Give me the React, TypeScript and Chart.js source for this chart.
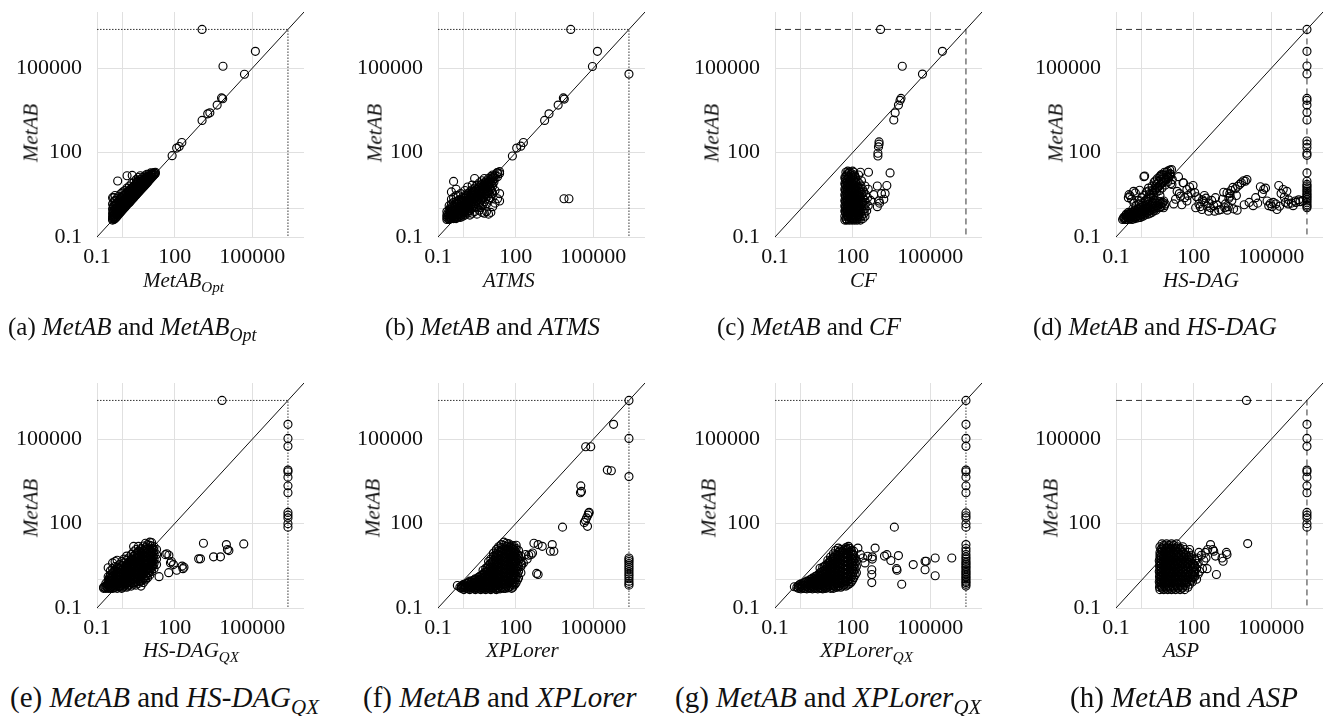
import React, { useEffect, useRef } from "react";
import { Chart, registerables } from "chart.js";
Chart.register(...registerables);

type P = [number, number];

const TIMEOUT = 2400000;
const T = TIMEOUT;
const AXIS_MIN = 0.1;
const AXIS_MAX = 10000000;
const TICK_VALUES = [0.1, 1, 100, 100000];
const TICK_LABELS = ["0.1", "", "100", "100000"];

// (a) MetAB vs MetAB_Opt
const outA: P[] = [[1150,T],[132000,400000],[7400,118000],[50000,61000],[6500,8800],[7200,8200],[4400,4900],[1900,2400],[2300,2600],[1150,1400],[80,78],[120,145],[150,165],[190,230],[16,19.5],[0.63,9.8],[1.45,15],[2.3,15.5],[4.7,15],[0.44,2.5]];
const blobA: P[] = [[0.4,0.4],[0.4,0.45],[0.4,0.55],[0.4,0.7],[0.4,1.0],[0.4,1.5],[0.4,2.5],[0.45,0.42],[0.45,0.5],[0.45,0.6],[0.45,0.8],[0.45,1.2],[0.45,1.8],[0.5,0.45],[0.5,0.55],[0.5,0.7],[0.5,0.9],[0.5,1.3],[0.5,2],[0.5,3],[0.6,0.55],[0.6,0.65],[0.6,0.8],[0.6,1.1],[0.6,1.6],[0.6,2.4],[0.7,0.65],[0.7,0.75],[0.7,0.95],[0.7,1.3],[0.7,1.9],[0.7,2.8],[0.85,0.8],[0.85,0.95],[0.85,1.2],[0.85,1.6],[0.85,2.4],[0.85,3.5],[1,0.95],[1,1.1],[1,1.4],[1,1.9],[1,2.8],[1,4],[1.2,1.15],[1.2,1.35],[1.2,1.7],[1.2,2.3],[1.2,3.2],[1.2,4.5],[1.45,1.4],[1.45,1.6],[1.45,2],[1.45,2.7],[1.45,3.8],[1.45,5.5],[1.8,1.7],[1.8,2],[1.8,2.5],[1.8,3.3],[1.8,4.5],[1.8,6.5],[2.2,2.1],[2.2,2.4],[2.2,3],[2.2,4],[2.2,5.5],[2.2,8],[2.7,2.6],[2.7,3],[2.7,3.7],[2.7,4.8],[2.7,6.5],[2.7,9],[3.3,3.2],[3.3,3.7],[3.3,4.5],[3.3,5.8],[3.3,7.8],[3.3,11],[4,3.9],[4,4.5],[4,5.5],[4,7],[4,9.5],[4,13],[4.7,4.6],[4.7,5.4],[4.7,6.6],[4.7,8.5],[4.7,11],[5.8,5.6],[5.8,6.6],[5.8,8],[5.8,10],[5.8,13],[7,6.8],[7,8],[7,9.8],[7,12],[7,15],[8.5,8.3],[8.5,9.8],[8.5,12],[8.5,14.5],[8.5,17],[10,10],[10,11.5],[10,14],[10,17],[12,12],[12,14],[12,16.5],[12,19],[15,15],[15,17],[18,18],[18,20]];
const blobA2: P[] = [[0.42,0.48],[0.43,0.62],[0.42,0.85],[0.43,1.25],[0.47,0.52],[0.48,0.68],[0.47,1.0],[0.55,0.5],[0.55,0.62],[0.55,0.78],[0.55,1.05],[0.55,1.5],[0.65,0.6],[0.65,0.72],[0.65,0.9],[0.65,1.2],[0.65,1.75],[0.78,0.72],[0.78,0.88],[0.78,1.1],[0.78,1.5],[0.78,2.1],[0.92,0.88],[0.92,1.05],[0.92,1.3],[0.92,1.75],[0.92,2.5],[1.1,1.05],[1.1,1.25],[1.1,1.55],[1.1,2.1],[1.1,3],[1.3,1.25],[1.3,1.5],[1.3,1.85],[1.3,2.5],[1.3,3.5],[1.6,1.55],[1.6,1.8],[1.6,2.25],[1.6,3],[1.6,4.2],[2,1.9],[2,2.2],[2,2.75],[2,3.6],[2,5],[2.45,2.35],[2.45,2.7],[2.45,3.3],[2.45,4.4],[2.45,6],[3,2.9],[3,3.3],[3,4.1],[3,5.3],[3,7.2],[3.6,3.5],[3.6,4.1],[3.6,5],[3.6,6.4],[3.6,8.6],[4.3,4.2],[4.3,5],[4.3,6],[4.3,7.8],[5.2,5.1],[5.2,6],[5.2,7.3],[5.2,9.2],[6.4,6.2],[6.4,7.3],[6.4,8.9],[6.4,11],[7.7,7.5],[7.7,8.9],[7.7,10.8],[7.7,13],[9.2,9],[9.2,10.6],[9.2,13],[11,11],[11,12.8],[11,15.5],[13.5,13.5],[13.5,15.5],[13.5,18],[16.5,16.5],[16.5,18.5]];

// (b) MetAB vs ATMS
const outB: P[] = [[13500,T],[145000,400000],[93000,115000],[T,62000],[7000,8800],[7600,8000],[4400,4900],[1950,2400],[1320,1400],[75,76],[110,145],[158,170],[200,230],[19.5,19.5],[7400,2.3],[11500,2.3]];
const blobB: P[] = [[0.22,0.42],[0.22,0.5],[0.22,0.6],[0.22,0.8],[0.27,0.42],[0.27,0.5],[0.27,0.65],[0.27,0.9],[0.27,1.3],[0.33,0.45],[0.33,0.55],[0.33,0.7],[0.33,1],[0.33,1.5],[0.33,2.2],[0.33,4],[0.4,0.45],[0.4,0.5],[0.4,0.6],[0.4,0.8],[0.4,1.1],[0.4,1.7],[0.4,2.5],[0.4,9.5],[0.5,0.45],[0.5,0.55],[0.5,0.7],[0.5,0.9],[0.5,1.2],[0.5,1.8],[0.5,3],[0.5,5],[0.6,0.5],[0.6,0.6],[0.6,0.75],[0.6,1],[0.6,1.4],[0.6,2],[0.6,3],[0.75,0.5],[0.75,0.65],[0.75,0.85],[0.75,1.1],[0.75,1.5],[0.75,2.2],[0.75,3.5],[0.9,0.55],[0.9,0.75],[0.9,1],[0.9,1.3],[0.9,1.8],[0.9,2.6],[1.1,0.6],[1.1,0.8],[1.1,1.1],[1.1,1.5],[1.1,2],[1.1,3],[1.1,4.5],[1.4,0.7],[1.4,1],[1.4,1.3],[1.4,1.8],[1.4,2.4],[1.4,3.5],[1.4,6],[1.7,0.6],[1.7,0.9],[1.7,1.5],[1.7,2],[1.7,2.8],[1.7,4],[2.1,0.7],[2.1,1.2],[2.1,1.8],[2.1,2.4],[2.1,3.3],[2.1,4.8],[2.1,7],[2.6,0.8],[2.6,1.5],[2.6,2.2],[2.6,3],[2.6,4],[2.6,5.5],[2.6,12],[3.2,0.65],[3.2,1.1],[3.2,2],[3.2,2.8],[3.2,3.6],[3.2,5],[3.2,7],[4,0.9],[4,1.6],[4,2.6],[4,3.5],[4,4.5],[4,6],[4,8.5],[5,0.75],[5,1.3],[5,2.2],[5,3.3],[5,4.5],[5,5.5],[5,7.5],[5,10],[6.2,0.7],[6.2,1.8],[6.2,2.8],[6.2,4.5],[6.2,6],[6.2,8],[6.2,12],[7.5,0.8],[7.5,1.5],[7.5,3.5],[7.5,5.5],[7.5,7.5],[7.5,10],[9,0.65],[9,2.2],[9,4],[9,7],[9,9],[9,12],[11,0.75],[11,2.5],[11,5],[11,8.5],[11,11],[11,14],[13,1.2],[13,3.5],[13,6.5],[13,10],[13,13],[13,16],[16,1.6],[16,4.5],[16,12],[16,16],[20,2.3],[20,14],[20,19],[24,1.9],[24,3.5],[24,18],[24,21]];
const blobB2: P[] = [[0.24,0.45],[0.24,0.55],[0.24,0.7],[0.3,0.48],[0.3,0.6],[0.3,0.78],[0.3,1.1],[0.36,0.5],[0.36,0.62],[0.36,0.85],[0.36,1.2],[0.45,0.5],[0.45,0.65],[0.45,0.85],[0.45,1.1],[0.45,1.5],[0.55,0.5],[0.55,0.62],[0.55,0.8],[0.55,1.05],[0.55,1.5],[0.68,0.55],[0.68,0.7],[0.68,0.9],[0.68,1.2],[0.68,1.7],[0.82,0.6],[0.82,0.8],[0.82,1.05],[0.82,1.4],[0.82,2],[1,0.65],[1,0.9],[1,1.2],[1,1.7],[1,2.4],[1.25,0.75],[1.25,1.05],[1.25,1.4],[1.25,1.9],[1.25,2.7],[1.55,0.85],[1.55,1.2],[1.55,1.65],[1.55,2.2],[1.55,3.1],[1.9,1],[1.9,1.4],[1.9,2],[1.9,2.6],[1.9,3.6],[2.35,1.1],[2.35,1.6],[2.35,2.3],[2.35,3.1],[2.35,4.2],[2.9,1.2],[2.9,1.8],[2.9,2.6],[2.9,3.5],[2.9,4.8],[3.6,1.4],[3.6,2.2],[3.6,3.1],[3.6,4.2],[3.6,5.5],[4.5,1.1],[4.5,1.9],[4.5,3],[4.5,4],[4.5,5.2],[4.5,7],[5.6,1.5],[5.6,2.5],[5.6,3.8],[5.6,5],[5.6,6.8],[6.8,2.2],[6.8,3.2],[6.8,5],[6.8,6.8],[6.8,9],[8.2,2.8],[8.2,4.5],[8.2,6.2],[8.2,8.2],[10,3.5],[10,5.8],[10,7.8],[10,10],[12,4.2],[12,7.5],[12,12],[14.5,9],[14.5,14]];

// (c) MetAB vs CF
const outC: P[] = [[1200,T],[295000,400000],[8300,118000],[50000,62000],[7400,8500],[6800,7200],[5900,4900],[4400,2600],[3900,1450],[1050,240],[1050,200],[1000,160],[950,95],[950,76],[2800,19],[410,20],[2100,6.8],[1800,3.5],[1300,3.5],[1600,2.2],[1100,1.6],[900,1.2],[1050,1.9]];
const blobC: P[] = [[50,0.4],[60,0.4],[75,0.4],[95,0.4],[120,0.4],[150,0.4],[200,0.4],[55,0.45],[70,0.45],[90,0.45],[110,0.45],[140,0.45],[180,0.45],[250,0.45],[50,0.55],[65,0.55],[85,0.55],[105,0.55],[135,0.55],[170,0.55],[220,0.55],[300,0.55],[55,0.7],[70,0.7],[90,0.7],[120,0.7],[150,0.7],[200,0.7],[280,0.7],[50,0.85],[65,0.85],[80,0.85],[110,0.85],[140,0.85],[180,0.85],[250,0.85],[350,0.85],[55,1],[75,1],[95,1],[130,1],[170,1],[220,1],[300,1],[50,1.3],[65,1.3],[85,1.3],[110,1.3],[150,1.3],[200,1.3],[280,1.3],[400,1.3],[55,1.6],[70,1.6],[95,1.6],[130,1.6],[170,1.6],[240,1.6],[330,1.6],[50,2],[65,2],[85,2],[115,2],[150,2],[210,2],[300,2],[500,2],[55,2.5],[75,2.5],[100,2.5],[135,2.5],[180,2.5],[250,2.5],[380,2.5],[50,3.2],[65,3.2],[90,3.2],[120,3.2],[160,3.2],[220,3.2],[320,3.2],[650,3.2],[55,4],[75,4],[100,4],[140,4],[190,4],[270,4],[50,5],[65,5],[90,5],[125,5],[170,5],[240,5],[400,5],[55,6.5],[80,6.5],[110,6.5],[150,6.5],[210,6.5],[300,6.5],[900,6.5],[50,8],[70,8],[95,8],[130,8],[180,8],[55,10],[80,10],[110,10],[150,10],[220,10],[50,13],[70,13],[95,13],[130,13],[60,16],[85,16],[120,16],[170,16],[55,20],[75,20],[110,20],[200,20]];
const blobC2: P[] = [[58,0.42],[68,0.5],[80,0.48],[100,0.5],[125,0.5],[160,0.5],[62,0.62],[78,0.62],[98,0.62],[125,0.62],[160,0.62],[52,0.78],[62,0.78],[82,0.78],[100,0.78],[130,0.78],[165,0.78],[60,0.92],[72,0.92],[88,0.92],[115,0.92],[150,0.92],[200,0.92],[52,1.15],[62,1.15],[82,1.15],[100,1.15],[135,1.15],[180,1.15],[60,1.45],[75,1.45],[98,1.45],[125,1.45],[165,1.45],[220,1.45],[52,1.8],[62,1.8],[80,1.8],[100,1.8],[135,1.8],[180,1.8],[60,2.2],[72,2.2],[95,2.2],[120,2.2],[160,2.2],[52,2.8],[62,2.8],[82,2.8],[108,2.8],[140,2.8],[190,2.8],[60,3.6],[72,3.6],[95,3.6],[125,3.6],[170,3.6],[52,4.5],[62,4.5],[82,4.5],[108,4.5],[145,4.5],[60,5.7],[70,5.7],[95,5.7],[130,5.7],[180,5.7],[52,7.2],[62,7.2],[85,7.2],[115,7.2],[60,9],[72,9],[95,9],[130,9],[52,11.5],[62,11.5],[85,11.5],[115,11.5],[55,14.5],[72,14.5],[100,14.5],[65,18],[90,18],[100,22],[65,22]];

// (d) MetAB vs HS-DAG
const outD: P[] = [[T,T],[T,400000],[T,120000],[T,63000],[T,8500],[T,7200],[T,4900],[T,2700],[T,1450],[T,260],[T,200],[T,150],[T,95],[T,80],[T,19],[T,9.6],[T,7.4],[T,6.5],[T,5.6],[T,4.8],[T,4.2],[T,3.6],[T,3.2],[T,2.8],[T,2.5],[T,2.2],[T,1.9],[T,1.65],[T,1.4],[T,1.25],[T,1.1],[39,8.5],[95,6.8],[80,3.7],[158,2.3],[220,2.1],[380,1.6],[330,1.25],[210,0.95],[380,0.83],[650,0.83],[930,0.9],[1150,0.95],[1450,3.9],[1950,3.7],[2500,3.5],[2600,2.8],[3000,2.0],[3500,1.0],[4800,0.9],[5000,6.4],[6000,7.4],[10000,9.6],[11500,11],[4100,5.2],[38000,6.1],[51000,4.9],[69000,1.9],[93000,1.55],[107000,1.2],[166000,0.95],[210000,1.25],[195000,6.8],[290000,4.9],[355000,1.7],[470000,2.1],[850000,1.9],[1150000,2.1],[14.5,7.4],[23,4.2],[31,2.8],[55,1.9],[35,1.4],[17,1.5],[6.9,1.1],[3.8,1.3],[2.5,1.6],[55,4.9],[26,14],[41,8.4],[1.28,14.7],[4.9,14],[12.6,17],[0.82,4.6],[0.56,3.7],[0.48,4.2],[120,1.1],[160,1.5],[260,3],[600,1.3],[700,2.5],[1700,1.5],[2200,1.2],[30000,1.6],[60000,5.5],[150000,1.5],[450000,1.5],[700000,1.3]];
const scatD2: P[] = [[20,2.2],[28,3.5],[45,2.5],[60,3],[70,6],[110,3.8],[130,2.7],[180,1.2],[250,1.8],[300,2.4],[450,1.1],[500,2],[800,1.4],[1300,2.2],[1600,1.1],[2000,0.9],[2300,2.4],[2800,4.5],[3300,5.8],[4500,3],[7000,8.5],[8500,10],[9000,1.4],[14000,1.7],[20000,1.3],[25000,2.5],[45000,3.5],[80000,1.3],[120000,1.7],[240000,3.5],[320000,2.6],[400000,4.2],[600000,1.6],[900000,1.7],[1300000,1.8],[1700000,2]];
const blobD: P[] = [[0.18,0.42],[0.2,0.45],[0.22,0.5],[0.25,0.42],[0.25,0.55],[0.28,0.48],[0.3,0.6],[0.3,0.42],[0.33,0.5],[0.35,0.65],[0.35,0.45],[0.4,0.55],[0.4,0.75],[0.42,0.42],[0.45,0.6],[0.48,0.85],[0.5,0.5],[0.55,0.7],[0.55,0.45],[0.6,0.55],[0.6,0.9],[0.65,0.65],[0.7,0.48],[0.7,0.8],[0.75,1.0],[0.8,0.6],[0.85,0.75],[0.9,0.5],[0.9,1.1],[1.0,0.65],[1.0,0.9],[1.1,0.55],[1.1,1.2],[1.2,0.8],[1.3,1.0],[1.3,0.6],[1.4,1.3],[1.5,0.75],[1.6,0.95],[1.7,1.2],[1.8,0.65],[1.9,1.5],[2,0.85],[2.2,1.1],[2.4,1.4],[2.5,0.75],[2.7,1.7],[2.8,1.0],[3,1.25],[3.3,1.6],[3.5,0.9],[3.8,1.9],[4,1.1],[4.5,1.4],[5,1.8],[5.5,1.2],[6,1.55],[7,1.9],[7.5,1.3],[0.3,0.75],[0.45,1.0],[0.25,0.65],[0.3,2.5],[0.32,3.2],[0.35,2.9],[0.4,2.2],[0.5,1.6],[0.6,1.3],[0.7,2.0],[0.8,1.5],[1.0,2.5],[1.2,3.0],[1.3,1.8],[1.5,4.0],[1.6,2.2],[1.8,5.5],[2,3.5],[2.2,2.5],[2.5,6.5],[2.6,4.5],[2.8,3.0],[3,9],[3.2,5.5],[3.5,7.5],[3.6,3.8],[4,12],[4.2,6],[4.5,9.5],[4.8,4.5],[5,14],[5.3,7.5],[5.5,11],[6,17],[6,5.5],[6.5,9],[7,13],[7.5,20],[8,7],[8.5,11],[9,16],[10,9],[10,22],[11,13],[12,18],[13,8],[14,25],[15,11],[1.2,14],[4,8],[2.5,1.6],[5,3],[3,2]];
const blobD2: P[] = [[0.2,0.5],[0.22,0.42],[0.24,0.6],[0.27,0.52],[0.3,0.5],[0.32,0.68],[0.37,0.55],[0.38,0.45],[0.42,0.65],[0.44,0.5],[0.5,0.6],[0.52,0.75],[0.58,0.52],[0.62,0.72],[0.68,0.58],[0.72,0.95],[0.78,0.68],[0.82,0.5],[0.88,0.85],[0.95,0.6],[1.05,0.78],[1.15,0.95],[1.25,0.7],[1.35,0.85],[1.45,1.1],[1.55,0.65],[1.65,0.85],[1.75,1.05],[2.1,0.7],[2.3,0.95],[2.6,1.2],[2.9,0.85],[3.2,1.05],[3.7,1.3],[4.2,1.6],[4.8,1.1],[5.2,1.5],[6.5,1.7],[8,1.5],[1.1,1.6],[1.4,2.0],[1.8,2.6],[2.2,3.2],[2.7,3.8],[3.3,4.6],[4,5.5],[4.8,6.6],[5.8,8],[7,9.5],[8.5,12],[10,14],[12,15],[0.9,1.9],[1.9,4.4],[3.4,10],[5.5,16],[7,16],[9,20],[12,24]];

// (e) MetAB vs HS-DAG_QX
const outE: P[] = [[6800,T],[T,340000],[T,107000],[T,56000],[T,8000],[T,7000],[T,4500],[T,2200],[T,1250],[T,250],[T,200],[T,160],[T,100],[T,75],[1300,20],[3200,6.6],[5900,6.6],[10000,18],[11000,12],[12500,11],[47000,19],[850,5.6],[1000,5.6],[44,7.9],[50,8.5],[60,7.5],[69,4.0],[75,4.5],[195,3.1],[210,2.5],[230,2.8],[59,1.8],[90,3.5],[120,2.2],[25,1.3]];
const blobE: P[] = [[0.18,0.5],[0.18,0.55],[0.22,0.5],[0.22,0.6],[0.22,0.75],[0.27,0.5],[0.27,0.6],[0.27,0.75],[0.27,0.95],[0.27,1.3],[0.27,2.7],[0.33,0.5],[0.33,0.65],[0.33,0.85],[0.33,1.1],[0.33,1.5],[0.33,2.1],[0.4,0.5],[0.4,0.6],[0.4,0.8],[0.4,1],[0.4,1.3],[0.4,1.8],[0.4,2.5],[0.4,4],[0.5,0.55],[0.5,0.7],[0.5,0.9],[0.5,1.2],[0.5,1.6],[0.5,2.2],[0.5,3],[0.5,4.5],[0.6,0.5],[0.6,0.65],[0.6,0.85],[0.6,1.1],[0.6,1.4],[0.6,2],[0.6,2.8],[0.6,5],[0.75,0.55],[0.75,0.75],[0.75,1],[0.75,1.3],[0.75,1.8],[0.75,2.5],[0.75,3.5],[0.9,0.5],[0.9,0.7],[0.9,0.9],[0.9,1.2],[0.9,1.6],[0.9,2.2],[0.9,3.2],[0.9,4.5],[1.1,0.6],[1.1,0.8],[1.1,1.1],[1.1,1.5],[1.1,2],[1.1,2.8],[1.1,4],[1.1,5.5],[1.4,0.55],[1.4,0.75],[1.4,1],[1.4,1.3],[1.4,1.8],[1.4,2.5],[1.4,3.5],[1.4,5],[1.4,7],[1.7,0.65],[1.7,0.9],[1.7,1.2],[1.7,1.6],[1.7,2.2],[1.7,3],[1.7,4.2],[1.7,6],[2.1,0.6],[2.1,0.8],[2.1,1.1],[2.1,1.5],[2.1,2],[2.1,2.8],[2.1,3.8],[2.1,5.5],[2.1,8],[2.6,0.7],[2.6,1],[2.6,1.3],[2.6,1.8],[2.6,2.5],[2.6,3.5],[2.6,4.8],[2.6,7],[2.6,10],[2.6,15.5],[3.2,0.65],[3.2,0.9],[3.2,1.2],[3.2,1.6],[3.2,2.2],[3.2,3],[3.2,4.2],[3.2,6],[3.2,8.5],[3.2,12],[4,0.75],[4,1.1],[4,1.5],[4,2],[4,2.8],[4,3.8],[4,5.2],[4,7.5],[4,10.5],[4,15.5],[5,0.6],[5,0.9],[5,1.3],[5,1.8],[5,2.5],[5,3.4],[5,4.7],[5,6.5],[5,9],[5,13],[6.2,0.8],[6.2,1.2],[6.2,1.6],[6.2,2.2],[6.2,3],[6.2,4.2],[6.2,5.8],[6.2,8],[6.2,11],[6.2,16],[7.5,1],[7.5,1.4],[7.5,2],[7.5,2.8],[7.5,3.8],[7.5,5.2],[7.5,7],[7.5,10],[7.5,14],[7.5,20],[9,1.2],[9,1.8],[9,2.5],[9,3.5],[9,5],[9,7],[9,9.5],[9,13],[9,18],[11,1.5],[11,2.2],[11,3.2],[11,4.5],[11,6.5],[11,9],[11,12.5],[11,17],[11,22],[13,2],[13,3],[13,4.2],[13,6],[13,8.5],[13,12],[13,16],[13,21],[16,2.5],[16,3.8],[16,5.5],[16,8],[16,11],[16,15],[20,3.5],[20,5.5],[20,8],[20,12]];
const blobE2: P[] = [[0.2,0.55],[0.25,0.55],[0.25,0.7],[0.3,0.55],[0.3,0.7],[0.3,0.9],[0.3,1.2],[0.36,0.55],[0.36,0.72],[0.36,0.95],[0.36,1.25],[0.45,0.52],[0.45,0.65],[0.45,0.82],[0.45,1.1],[0.45,1.45],[0.45,2],[0.55,0.6],[0.55,0.78],[0.55,1],[0.55,1.3],[0.55,1.8],[0.68,0.58],[0.68,0.72],[0.68,0.95],[0.68,1.25],[0.68,1.6],[0.68,2.3],[0.82,0.62],[0.82,0.8],[0.82,1.05],[0.82,1.4],[0.82,1.9],[0.82,2.7],[1,0.55],[1,0.72],[1,0.95],[1,1.3],[1,1.75],[1,2.4],[1.25,0.65],[1.25,0.85],[1.25,1.15],[1.25,1.6],[1.25,2.2],[1.25,3],[1.55,0.6],[1.55,0.8],[1.55,1.1],[1.55,1.45],[1.55,2],[1.55,2.7],[1.55,3.8],[1.9,0.7],[1.9,0.95],[1.9,1.3],[1.9,1.8],[1.9,2.5],[1.9,3.4],[1.9,4.8],[2.35,0.75],[2.35,1],[2.35,1.4],[2.35,1.9],[2.35,2.6],[2.35,3.6],[2.35,5],[2.9,0.8],[2.9,1.1],[2.9,1.5],[2.9,2],[2.9,2.8],[2.9,3.8],[2.9,5.3],[2.9,7.5],[3.6,0.85],[3.6,1.2],[3.6,1.7],[3.6,2.4],[3.6,3.3],[3.6,4.5],[3.6,6.3],[3.6,9],[4.5,0.9],[4.5,1.3],[4.5,1.8],[4.5,2.6],[4.5,3.6],[4.5,5],[4.5,7],[4.5,10],[5.6,1],[5.6,1.5],[5.6,2.1],[5.6,3],[5.6,4.2],[5.6,6],[5.6,8.5],[5.6,12],[6.8,1.1],[6.8,1.7],[6.8,2.5],[6.8,3.5],[6.8,5],[6.8,7],[6.8,10],[8.2,1.4],[8.2,2.2],[8.2,3.2],[8.2,4.5],[8.2,6.5],[8.2,9],[8.2,12],[10,1.8],[10,2.8],[10,4],[10,5.8],[10,8],[10,11],[12,2.5],[12,3.6],[12,5.2],[12,7.5],[12,10.5],[14.5,3.2],[14.5,4.6],[14.5,6.8],[14.5,9.5],[14.5,13]];

// (f) MetAB vs XPLorer
const outF: P[] = [[T,T],[610000,340000],[T,107000],[51000,54000],[80000,54000],[T,4700],[350000,8000],[500000,7600],[33000,2200],[35000,1400],[32000,1250],[45000,110],[50000,130],[55000,160],[62000,200],[66000,240],[70000,250],[60000,80],[6500,75],[T,6],[T,5.2],[T,4.5],[T,3.8],[T,3.2],[T,2.7],[T,2.3],[T,1.9],[T,1.6],[T,1.35],[T,1.1],[T,0.9],[T,0.75],[T,0.65],[510,20],[740,18],[1070,15.6],[2600,18],[3000,10.4],[2200,10.4],[400,8],[320,7.5],[245,8],[740,1.55],[650,1.7],[200,4],[170,3.5],[280,5.5],[450,9]];
const blobF: P[] = [[0.56,0.63],[0.8,0.5],[0.8,0.6],[1,0.45],[1,0.55],[1,0.7],[1.3,0.5],[1.3,0.6],[1.3,0.75],[1.7,0.45],[1.7,0.55],[1.7,0.7],[1.7,0.9],[2.2,0.5],[2.2,0.6],[2.2,0.75],[2.2,0.95],[2.8,0.45],[2.8,0.55],[2.8,0.7],[2.8,0.85],[2.8,1.1],[3.5,0.5],[3.5,0.6],[3.5,0.75],[3.5,0.95],[3.5,1.2],[4.5,0.45],[4.5,0.55],[4.5,0.7],[4.5,0.85],[4.5,1.1],[4.5,1.4],[5.5,0.5],[5.5,0.6],[5.5,0.75],[5.5,0.95],[5.5,1.2],[5.5,1.6],[5.5,2.2],[7,0.45],[7,0.55],[7,0.7],[7,0.9],[7,1.1],[7,1.4],[7,1.9],[7,2.6],[9,0.5],[9,0.6],[9,0.8],[9,1],[9,1.3],[9,1.7],[9,2.3],[9,3.2],[9,4.5],[11,0.45],[11,0.55],[11,0.7],[11,0.9],[11,1.2],[11,1.5],[11,2],[11,2.8],[11,4],[11,5.5],[14,0.5],[14,0.65],[14,0.8],[14,1.1],[14,1.4],[14,1.9],[14,2.6],[14,3.6],[14,5],[14,7],[14,9],[18,0.45],[18,0.6],[18,0.75],[18,1],[18,1.3],[18,1.7],[18,2.3],[18,3.2],[18,4.5],[18,6.5],[18,9],[18,12],[22,0.5],[22,0.7],[22,0.9],[22,1.2],[22,1.6],[22,2.1],[22,2.9],[22,4],[22,5.5],[22,8],[22,11],[22,15],[28,0.55],[28,0.8],[28,1.1],[28,1.5],[28,2],[28,2.7],[28,3.7],[28,5],[28,7],[28,10],[28,14],[28,18],[35,0.5],[35,0.7],[35,1],[35,1.3],[35,1.8],[35,2.5],[35,3.4],[35,4.6],[35,6.5],[35,9],[35,12.5],[35,17],[35,22],[45,0.6],[45,0.9],[45,1.2],[45,1.7],[45,2.3],[45,3.1],[45,4.2],[45,5.8],[45,8],[45,11],[45,15],[45,20],[55,0.55],[55,0.8],[55,1.1],[55,1.5],[55,2.1],[55,2.9],[55,4],[55,5.5],[55,7.5],[55,10],[55,14],[55,19],[70,0.5],[70,0.7],[70,1.0],[70,1.4],[70,2],[70,2.8],[70,3.8],[70,5.2],[70,7],[70,9.5],[70,13],[70,17],[85,0.65],[85,1],[85,1.5],[85,2.2],[85,3],[85,4.5],[85,6.5],[85,9],[85,12],[85,16],[105,0.8],[105,1.3],[105,2],[105,3],[105,4.5],[105,6.5],[105,9],[105,13],[105,17],[130,1.2],[130,2],[130,3.2],[130,5],[130,7.5],[130,11],[160,1.8],[160,3],[160,4.5],[160,7]];
const blobF2: P[] = [[0.7,0.55],[0.9,0.52],[0.9,0.65],[1.15,0.5],[1.15,0.62],[1.5,0.48],[1.5,0.62],[1.5,0.8],[1.95,0.52],[1.95,0.66],[1.95,0.85],[2.5,0.48],[2.5,0.62],[2.5,0.8],[2.5,1],[3.1,0.52],[3.1,0.66],[3.1,0.85],[3.1,1.05],[4,0.48],[4,0.6],[4,0.78],[4,1],[4,1.3],[5,0.52],[5,0.66],[5,0.85],[5,1.1],[5,1.45],[6.2,0.48],[6.2,0.6],[6.2,0.8],[6.2,1],[6.2,1.3],[6.2,1.8],[8,0.52],[8,0.66],[8,0.85],[8,1.1],[8,1.5],[8,2],[8,2.8],[10,0.48],[10,0.62],[10,0.8],[10,1.05],[10,1.4],[10,1.9],[10,2.6],[10,3.6],[12.5,0.52],[12.5,0.66],[12.5,0.88],[12.5,1.15],[12.5,1.5],[12.5,2],[12.5,2.8],[12.5,4.2],[16,0.48],[16,0.62],[16,0.82],[16,1.1],[16,1.45],[16,2],[16,2.8],[16,4],[16,5.5],[16,7.5],[20,0.52],[20,0.68],[20,0.9],[20,1.2],[20,1.6],[20,2.2],[20,3],[20,4.2],[20,6],[20,8.5],[25,0.48],[25,0.62],[25,0.85],[25,1.15],[25,1.55],[25,2.1],[25,2.9],[25,4],[25,5.5],[25,7.5],[25,10],[31,0.52],[31,0.7],[31,0.95],[31,1.3],[31,1.75],[31,2.4],[31,3.3],[31,4.5],[31,6],[31,8.5],[31,12],[40,0.5],[40,0.65],[40,0.9],[40,1.25],[40,1.7],[40,2.3],[40,3.2],[40,4.4],[40,6],[40,8.5],[40,11],[40,15],[50,0.52],[50,0.7],[50,0.95],[50,1.3],[50,1.8],[50,2.5],[50,3.4],[50,4.6],[50,6.4],[50,9],[50,12],[50,16],[62,0.6],[62,0.85],[62,1.2],[62,1.7],[62,2.4],[62,3.3],[62,4.5],[62,6.2],[62,8.5],[62,11.5],[62,15],[78,0.55],[78,0.8],[78,1.2],[78,1.8],[78,2.5],[78,3.5],[78,5],[78,7],[78,10],[78,14],[95,0.7],[95,1.1],[95,1.7],[95,2.5],[95,3.7],[95,5.5],[95,8],[95,11],[118,1],[118,1.6],[118,2.5],[118,3.8],[118,5.5],[118,8]];

// (g) MetAB vs XPLorer_QX
const outG: P[] = [[T,T],[T,340000],[T,107000],[T,56000],[T,8000],[T,7000],[T,4500],[T,2200],[T,1250],[T,240],[T,190],[T,160],[T,100],[T,75],[T,18],[T,13],[T,10.5],[T,8],[T,6.5],[T,5.5],[T,4.6],[T,4],[T,3.5],[T,3],[T,2.7],[T,2.3],[T,2],[T,1.75],[T,1.55],[T,1.35],[T,1.2],[T,1.05],[T,0.9],[T,0.8],[T,0.7],[T,0.6],[4100,75],[28,13.5],[69,15.6],[160,13.5],[740,13.5],[575,6.6],[575,5.5],[550,2.3],[550,1.55],[550,0.8],[2100,7.9],[3000,4.9],[5900,7.3],[7900,0.7],[5000,2.5],[5200,2.2],[22000,3.5],[63000,2.3],[63000,4.6],[70000,4.6],[155000,6],[680000,6],[155000,1.4],[1700,7],[380,6.9],[200,8],[250,6],[300,4]];
const blobG: P[] = [[0.56,0.57],[0.8,0.5],[0.8,0.62],[1,0.48],[1,0.58],[1,0.72],[1.3,0.5],[1.3,0.62],[1.3,0.78],[1.7,0.48],[1.7,0.58],[1.7,0.72],[1.7,0.9],[2.2,0.5],[2.2,0.62],[2.2,0.78],[2.2,1],[2.8,0.48],[2.8,0.58],[2.8,0.72],[2.8,0.9],[2.8,1.15],[3.5,0.5],[3.5,0.62],[3.5,0.78],[3.5,1],[3.5,1.3],[4.5,0.48],[4.5,0.6],[4.5,0.75],[4.5,0.95],[4.5,1.2],[4.5,1.5],[5.5,0.52],[5.5,0.65],[5.5,0.82],[5.5,1.05],[5.5,1.35],[5.5,1.8],[5.5,2.6],[7,0.48],[7,0.6],[7,0.75],[7,0.95],[7,1.2],[7,1.55],[7,2],[7,2.8],[9,0.5],[9,0.62],[9,0.8],[9,1.05],[9,1.35],[9,1.8],[9,2.4],[9,3.3],[11,0.55],[11,0.7],[11,0.9],[11,1.15],[11,1.5],[11,2],[11,2.7],[11,3.8],[11,5],[14,0.5],[14,0.65],[14,0.85],[14,1.1],[14,1.45],[14,1.9],[14,2.6],[14,3.5],[14,4.8],[14,6.5],[18,0.5],[18,0.65],[18,0.85],[18,1.1],[18,1.4],[18,1.9],[18,2.5],[18,3.4],[18,4.6],[18,6.2],[18,8.5],[22,0.55],[22,0.75],[22,1],[22,1.3],[22,1.7],[22,2.3],[22,3.1],[22,4.2],[22,5.8],[22,8],[22,11],[28,0.6],[28,0.8],[28,1.1],[28,1.5],[28,2],[28,2.7],[28,3.7],[28,5],[28,7],[28,9.5],[35,0.55],[35,0.75],[35,1],[35,1.4],[35,1.9],[35,2.6],[35,3.5],[35,4.8],[35,6.5],[35,9],[35,12],[45,0.65],[45,0.9],[45,1.25],[45,1.7],[45,2.3],[45,3.2],[45,4.4],[45,6],[45,8.5],[45,11.5],[55,0.6],[55,0.85],[55,1.2],[55,1.6],[55,2.2],[55,3],[55,4.2],[55,5.8],[55,8],[55,11],[55,14],[70,0.7],[70,1],[70,1.4],[70,2],[70,2.8],[70,3.8],[70,5.2],[70,7.2],[70,10],[70,13.5],[90,0.85],[90,1.3],[90,1.9],[90,2.8],[90,4],[90,5.8],[90,8],[90,11],[110,1.2],[110,2],[110,3.2],[110,5],[110,7.5],[110,10.5],[140,1.8],[140,3],[140,4.8]];
const blobG2: P[] = [[0.7,0.55],[0.9,0.55],[0.9,0.68],[1.15,0.52],[1.15,0.65],[1.5,0.5],[1.5,0.65],[1.5,0.82],[1.95,0.55],[1.95,0.68],[1.95,0.88],[2.5,0.52],[2.5,0.65],[2.5,0.82],[2.5,1.05],[3.1,0.55],[3.1,0.7],[3.1,0.88],[3.1,1.1],[4,0.52],[4,0.65],[4,0.85],[4,1.05],[4,1.35],[5,0.55],[5,0.7],[5,0.9],[5,1.15],[5,1.5],[6.2,0.5],[6.2,0.65],[6.2,0.85],[6.2,1.1],[6.2,1.4],[6.2,1.9],[8,0.55],[8,0.7],[8,0.9],[8,1.2],[8,1.6],[8,2.2],[8,3],[10,0.52],[10,0.68],[10,0.88],[10,1.15],[10,1.55],[10,2.1],[10,2.9],[12.5,0.6],[12.5,0.78],[12.5,1],[12.5,1.3],[12.5,1.7],[12.5,2.3],[12.5,3.2],[12.5,4.3],[16,0.55],[16,0.72],[16,0.95],[16,1.25],[16,1.65],[16,2.2],[16,3],[16,4],[16,5.5],[20,0.6],[20,0.8],[20,1.05],[20,1.4],[20,1.85],[20,2.5],[20,3.4],[20,4.6],[20,6.3],[25,0.55],[25,0.72],[25,0.95],[25,1.3],[25,1.75],[25,2.35],[25,3.2],[25,4.3],[25,5.8],[25,8],[31,0.62],[31,0.85],[31,1.15],[31,1.6],[31,2.2],[31,3],[31,4.1],[31,5.6],[31,7.8],[31,10.5],[40,0.6],[40,0.8],[40,1.1],[40,1.5],[40,2],[40,2.75],[40,3.8],[40,5.2],[40,7.2],[40,10],[50,0.7],[50,0.95],[50,1.3],[50,1.8],[50,2.5],[50,3.4],[50,4.6],[50,6.4],[50,9],[50,12.5],[62,0.65],[62,0.9],[62,1.25],[62,1.7],[62,2.4],[62,3.3],[62,4.5],[62,6.2],[62,8.5],[62,12],[80,0.75],[80,1.1],[80,1.6],[80,2.3],[80,3.3],[80,4.7],[80,6.7],[80,9.5],[80,13],[100,1],[100,1.6],[100,2.5],[100,3.8],[100,5.5],[100,8],[125,1.5],[125,2.4],[125,3.8],[125,6]];

// (h) MetAB vs ASP
const outH: P[] = [[11000,T],[T,340000],[T,107000],[T,56000],[T,8000],[T,7000],[T,4500],[T,2200],[T,1250],[T,250],[T,200],[T,160],[T,100],[T,75],[12300,19.5],[450,18],[600,10.5],[1250,6],[1850,9.5],[1950,8],[1380,4.6],[760,1.55],[550,12],[700,7],[11,13.5],[330,2.5]];
const blobH: P[] = [[5,0.45],[7,0.45],[10,0.45],[14,0.45],[20,0.45],[30,0.45],[45,0.45],[4.8,0.55],[6,0.55],[8.5,0.55],[12,0.55],[17,0.55],[25,0.55],[38,0.55],[60,0.55],[5,0.7],[6.5,0.7],[9,0.7],[13,0.7],[19,0.7],[28,0.7],[42,0.7],[70,0.7],[4.7,0.85],[6,0.85],[8,0.85],[11,0.85],[16,0.85],[24,0.85],[35,0.85],[55,0.85],[90,0.85],[5,1.05],[7,1.05],[10,1.05],[14,1.05],[21,1.05],[32,1.05],[50,1.05],[80,1.05],[130,1.05],[4.8,1.3],[6.5,1.3],[9,1.3],[13,1.3],[19,1.3],[28,1.3],[45,1.3],[70,1.3],[110,1.3],[5,1.6],[7,1.6],[10,1.6],[15,1.6],[22,1.6],[34,1.6],[55,1.6],[90,1.6],[150,1.6],[4.7,2],[6,2],[8.5,2],[12,2],[18,2],[27,2],[42,2],[65,2],[100,2],[170,2],[5,2.5],[7,2.5],[10,2.5],[14,2.5],[21,2.5],[32,2.5],[50,2.5],[80,2.5],[130,2.5],[220,2.5],[4.8,3.1],[6.5,3.1],[9,3.1],[13,3.1],[19,3.1],[29,3.1],[45,3.1],[70,3.1],[110,3.1],[5,3.9],[7,3.9],[10,3.9],[15,3.9],[23,3.9],[35,3.9],[55,3.9],[90,3.9],[150,3.9],[4.7,4.8],[6.5,4.8],[9,4.8],[13,4.8],[20,4.8],[31,4.8],[48,4.8],[75,4.8],[120,4.8],[250,4.8],[5,6],[7,6],[10,6],[15,6],[23,6],[36,6],[56,6],[85,6],[140,6],[300,6],[5,7.5],[6.5,7.5],[9,7.5],[14,7.5],[21,7.5],[33,7.5],[52,7.5],[80,7.5],[200,7.5],[5,9.5],[7.5,9.5],[11,9.5],[17,9.5],[26,9.5],[40,9.5],[65,9.5],[160,9.5],[280,9.5],[5.5,12],[8,12],[12,12],[18,12],[28,12],[45,12],[70,12],[350,12],[5,15],[7,15],[10,15],[15,15],[24,15],[38,15],[6,19],[9,19],[14,19],[22,19]];
const blobH2: P[] = [[6,0.5],[8.5,0.5],[12,0.5],[17,0.5],[25,0.5],[36,0.5],[5.5,0.62],[7.5,0.62],[10.5,0.62],[15,0.62],[21,0.62],[31,0.62],[48,0.62],[5.5,0.78],[7.5,0.78],[10.5,0.78],[15,0.78],[22,0.78],[33,0.78],[52,0.78],[5.5,0.95],[7.5,0.95],[10.5,0.95],[15,0.95],[22,0.95],[34,0.95],[52,0.95],[80,0.95],[5.5,1.18],[8,1.18],[11.5,1.18],[17,1.18],[25,1.18],[38,1.18],[60,1.18],[95,1.18],[5.5,1.45],[8,1.45],[11.5,1.45],[17,1.45],[25,1.45],[38,1.45],[60,1.45],[100,1.45],[5.5,1.8],[8,1.8],[11.5,1.8],[17,1.8],[25,1.8],[38,1.8],[60,1.8],[110,1.8],[5.5,2.25],[8,2.25],[11.5,2.25],[17,2.25],[25,2.25],[38,2.25],[60,2.25],[100,2.25],[5.5,2.8],[8,2.8],[11.5,2.8],[17,2.8],[25,2.8],[38,2.8],[60,2.8],[95,2.8],[5.5,3.5],[8,3.5],[11.5,3.5],[17,3.5],[25,3.5],[38,3.5],[60,3.5],[100,3.5],[5.5,4.3],[8,4.3],[11.5,4.3],[17,4.3],[26,4.3],[40,4.3],[62,4.3],[5.5,5.4],[8,5.4],[11.5,5.4],[17,5.4],[26,5.4],[40,5.4],[65,5.4],[110,5.4],[5.5,6.7],[8,6.7],[11.5,6.7],[17,6.7],[26,6.7],[42,6.7],[65,6.7],[5.5,8.5],[8,8.5],[11.5,8.5],[17,8.5],[26,8.5],[42,8.5],[6,10.8],[9,10.8],[13,10.8],[20,10.8],[32,10.8],[6,13.5],[9,13.5],[13,13.5],[20,13.5],[30,13.5],[7,17],[11,17],[17,17]];

type PanelCfg = {
  pts: P[];
  dash: "dot" | "dash";
  left: number;
  top: number;
  yTitleX: number;
  xTitleLeft: number;
  xTitle: string;
  xSub?: string;
  capLeft: number;
  capName: string;
  capSub?: string;
  capLetter: string;
};

const ROW1_TOP = 12;
const ROW2_TOP = 383;
const PLOT_W = 207;
const PLOT_H = 225;
const YAXIS_W = 90;
const XAXIS_H = 35;

const panels: PanelCfg[] = [
  { pts: [...outA, ...blobA, ...blobA2], dash: "dot", left: 97, top: ROW1_TOP, yTitleX: 31, xTitleLeft: 143, xTitle: "MetAB", xSub: "Opt", capLeft: 8, capLetter: "a", capName: "MetAB", capSub: "Opt" },
  { pts: [...outB, ...blobB, ...blobB2], dash: "dot", left: 438, top: ROW1_TOP, yTitleX: 375, xTitleLeft: 483, xTitle: "ATMS", capLeft: 385, capLetter: "b", capName: "ATMS" },
  { pts: [...outC, ...blobC, ...blobC2], dash: "dash", left: 775, top: ROW1_TOP, yTitleX: 712, xTitleLeft: 850, xTitle: "CF", capLeft: 717, capLetter: "c", capName: "CF" },
  { pts: [...outD, ...scatD2, ...blobD, ...blobD2], dash: "dash", left: 1116, top: ROW1_TOP, yTitleX: 1056, xTitleLeft: 1163, xTitle: "HS-DAG", capLeft: 1033, capLetter: "d", capName: "HS-DAG" },
  { pts: [...outE, ...blobE, ...blobE2], dash: "dot", left: 97, top: ROW2_TOP, yTitleX: 31, xTitleLeft: 143, xTitle: "HS-DAG", xSub: "QX", capLeft: 10, capLetter: "e", capName: "HS-DAG", capSub: "QX" },
  { pts: [...outF, ...blobF, ...blobF2], dash: "dot", left: 438, top: ROW2_TOP, yTitleX: 373, xTitleLeft: 486, xTitle: "XPLorer", capLeft: 363, capLetter: "f", capName: "XPLorer" },
  { pts: [...outG, ...blobG, ...blobG2], dash: "dot", left: 775, top: ROW2_TOP, yTitleX: 709, xTitleLeft: 820, xTitle: "XPLorer", xSub: "QX", capLeft: 675, capLetter: "g", capName: "XPLorer", capSub: "QX" },
  { pts: [...outH, ...blobH, ...blobH2], dash: "dash", left: 1116, top: ROW2_TOP, yTitleX: 1051, xTitleLeft: 1163, xTitle: "ASP", capLeft: 1070, capLetter: "h", capName: "ASP" },
];

const SERIF = '"Liberation Serif", "Times New Roman", Times, "DejaVu Serif", serif';

function ScatterPanel({ cfg }: { cfg: PanelCfg }) {
  const ref = useRef<HTMLCanvasElement>(null);
  const cw = YAXIS_W + PLOT_W + 10;
  const ch = 10 + PLOT_H + XAXIS_H;
  useEffect(() => {
    const canvas = ref.current;
    if (!canvas) return;
    const tickOpts = {
      font: { family: SERIF, size: 22 },
      color: "#111",
      autoSkip: false,
      maxRotation: 0,
      callback: (v: any) => {
        const i = TICK_VALUES.indexOf(Number(v));
        return i >= 0 ? TICK_LABELS[i] : "";
      },
    };
    const setTicks = (s: any) => {
      s.ticks = TICK_VALUES.map((v) => ({ value: v }));
    };
    const chart = new Chart(canvas, {
      type: "scatter",
      data: {
        datasets: [
          {
            data: cfg.pts.map(([x, y]) => ({ x, y })),
            pointRadius: 4,
            pointHoverRadius: 4,
            pointBorderWidth: 1.15,
            borderColor: "#000",
            backgroundColor: "rgba(0,0,0,0)",
            order: 0,
          },
          {
            data: [{ x: AXIS_MIN, y: AXIS_MIN }, { x: AXIS_MAX, y: AXIS_MAX }],
            showLine: true,
            borderColor: "#111",
            borderWidth: 1,
            pointRadius: 0,
            order: 1,
          },
          {
            data: [{ x: AXIS_MIN, y: TIMEOUT }, { x: TIMEOUT, y: TIMEOUT }, { x: TIMEOUT, y: AXIS_MIN }],
            showLine: true,
            borderColor: "#333",
            borderWidth: 1,
            borderDash: cfg.dash === "dot" ? [1.5, 1.5] : [6, 4],
            pointRadius: 0,
            order: 2,
          },
        ] as any,
      },
      options: {
        animation: false,
        responsive: false,
        events: [],
        layout: { padding: { top: 10, right: 10, left: 0, bottom: 0 } },
        plugins: { legend: { display: false }, tooltip: { enabled: false } },
        scales: {
          x: {
            type: "logarithmic",
            min: AXIS_MIN,
            max: AXIS_MAX,
            afterBuildTicks: setTicks,
            afterFit: (s: any) => {
              s.height = XAXIS_H;
              s.paddingLeft = 0;
              s.paddingRight = 0;
            },
            grid: { color: "#e0e0e0", lineWidth: 1, drawTicks: false },
            border: { display: false },
            ticks: { ...tickOpts, padding: 7 },
          },
          y: {
            type: "logarithmic",
            min: AXIS_MIN,
            max: AXIS_MAX,
            afterBuildTicks: setTicks,
            afterFit: (s: any) => {
              s.width = YAXIS_W;
              s.paddingTop = 0;
              s.paddingBottom = 0;
            },
            grid: { color: "#e0e0e0", lineWidth: 1, drawTicks: false },
            border: { display: false },
            ticks: { ...tickOpts, padding: 15 },
          },
        },
      } as any,
    });
    let alive = true;
    const fonts = (document as any).fonts;
    if (fonts && fonts.load) {
      Promise.all([
        fonts.load('22px "Liberation Serif"'),
        fonts.load('italic 21px "Liberation Serif"'),
      ]).then(
        () => { if (alive) chart.update(); },
        () => {}
      );
    }
    return () => {
      alive = false;
      chart.destroy();
    };
  }, [cfg]);
  return (
    <canvas
      ref={ref}
      width={cw}
      height={ch}
      style={{ position: "absolute", left: cfg.left - YAXIS_W, top: cfg.top - 10, width: cw, height: ch }}
    />
  );
}

function Panel({ cfg, row }: { cfg: PanelCfg; row: number }) {
  const capSize = row === 0 ? 25 : 29;
  const xTitleTop = row === 0 ? 270 : 640;
  const yTitleY = row === 0 ? 133 : 508;
  const capTop = row === 0 ? 314 : 683;
  return (
    <>
      <ScatterPanel cfg={cfg} />
      <div
        style={{
          position: "absolute",
          left: cfg.yTitleX,
          top: yTitleY,
          transform: "translate(-50%, -50%) rotate(-90deg)",
          fontFamily: SERIF,
          fontStyle: "italic",
          fontSize: 21,
          lineHeight: 1,
          whiteSpace: "nowrap",
          color: "#111",
        }}
      >
        MetAB
      </div>
      <div
        style={{
          position: "absolute",
          left: cfg.xTitleLeft,
          top: xTitleTop,
          fontFamily: SERIF,
          fontStyle: "italic",
          fontSize: 21,
          lineHeight: 1,
          whiteSpace: "nowrap",
          color: "#111",
        }}
      >
        {cfg.xTitle}
        {cfg.xSub ? (
          <span style={{ fontSize: "0.72em", position: "relative", top: "0.32em" }}>{cfg.xSub}</span>
        ) : null}
      </div>
      <div
        style={{
          position: "absolute",
          left: cfg.capLeft,
          top: capTop,
          fontFamily: SERIF,
          fontSize: capSize,
          lineHeight: 1,
          whiteSpace: "nowrap",
          color: "#111",
        }}
      >
        ({cfg.capLetter}) <i>MetAB</i> and <i>{cfg.capName}</i>
        {cfg.capSub ? (
          <i style={{ fontSize: "0.72em", position: "relative", top: "0.32em" }}>{cfg.capSub}</i>
        ) : null}
      </div>
    </>
  );
}

export default function App() {
  return (
    <div style={{ position: "absolute", left: 0, top: 0, width: 1334, height: 716, background: "#fff", overflow: "hidden", fontFamily: SERIF }}>
      {panels.map((p, i) => (
        <Panel key={i} cfg={p} row={i < 4 ? 0 : 1} />
      ))}
    </div>
  );
}
